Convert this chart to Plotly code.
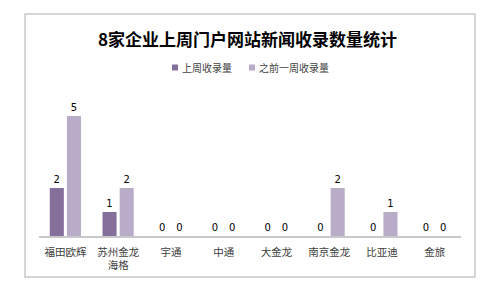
import plotly.graph_objects as go

categories = ["福田欧辉", "苏州金龙<br>海格", "宇通", "中通", "大金龙", "南京金龙", "比亚迪", "金旅"]
last_week = [2, 1, 0, 0, 0, 0, 0, 0]
prev_week = [5, 2, 0, 0, 0, 2, 1, 0]
series_names = ["上周收录量", "之前一周收录量"]
colors = ["#85709c", "#b9acc9"]
title_text = "8家企业上周门户网站新闻收录数量统计"

FONT = "Noto Sans CJK SC, sans-serif"

fig = go.Figure()
for name, vals, c in zip(series_names, [last_week, prev_week], colors):
    fig.add_trace(go.Bar(
        x=categories, y=vals, name=name, marker=dict(color=c, line=dict(width=0)),
        text=[str(v) for v in vals], textposition="outside", cliponaxis=False,
        textfont=dict(size=10, color="#000000", family="DejaVu Sans"),
        showlegend=False,
    ))

L, R, T, B = 39, 27, 92, 55
W, H = 488, 291
pw, ph = W - L - R, H - T - B

def px(x):
    return (x - L) / pw

def py(y):
    return (H - B - y) / ph

shapes = [dict(type="rect", xref="paper", yref="paper",
               x0=px(25), x1=px(475), y0=py(277), y1=py(14),
               line=dict(color="#c8c8c8", width=1.5), fillcolor="rgba(0,0,0,0)", layer="below")]
annotations = []
# manual legend
legend_x = [172, 249]
for lx, name, c in zip(legend_x, series_names, colors):
    shapes.append(dict(type="rect", xref="paper", yref="paper",
                       x0=px(lx), x1=px(lx + 6), y0=py(70.5), y1=py(64.5),
                       line=dict(width=0), fillcolor=c))
    annotations.append(dict(text=name, xref="paper", yref="paper", x=px(lx + 8), y=py(67.5),
                            xanchor="left", yanchor="middle", showarrow=False,
                            font=dict(size=10, color="#404040", family=FONT)))

fig.update_layout(
    width=W, height=H,
    margin=dict(l=L, r=R, t=T, b=B),
    paper_bgcolor="white", plot_bgcolor="white",
    barmode="group", bargap=0.35, bargroupgap=0.18,
    showlegend=False,
    title=dict(text="<b>" + title_text + "</b>", x=247.5 / W, xanchor="center", y=1 - 40 / H, yanchor="middle",
               font=dict(size=17, color="#000000", family=FONT)),
    xaxis=dict(showline=True, linecolor="#c8c8c8", linewidth=2, ticks="", showgrid=False,
               ticklabelstandoff=5,
               tickfont=dict(size=10.5, color="#404040", family=FONT), fixedrange=True),
    yaxis=dict(range=[0, 6], visible=False, showgrid=False, zeroline=False, fixedrange=True),
    shapes=shapes,
    annotations=annotations,
)

fig.write_html("out.html")
